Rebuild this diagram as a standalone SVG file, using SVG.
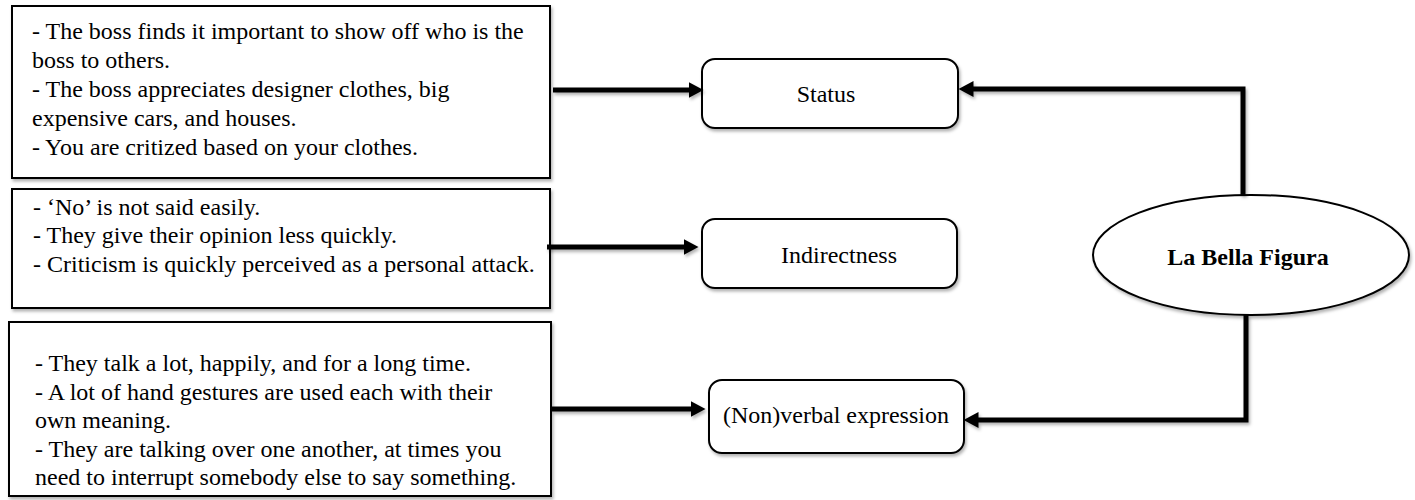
<svg xmlns="http://www.w3.org/2000/svg" width="1415" height="500" viewBox="0 0 1415 500">
  <defs>
    <filter id="sh" x="-10%" y="-10%" width="120%" height="130%">
      <feDropShadow dx="1.5" dy="2.5" stdDeviation="1.8" flood-color="#000" flood-opacity="0.3"/>
    </filter>
    <filter id="shc" filterUnits="userSpaceOnUse" x="0" y="0" width="1415" height="500">
      <feDropShadow dx="1.5" dy="2.5" stdDeviation="1.5" flood-color="#000" flood-opacity="0.3"/>
    </filter>
    <marker id="ah" markerUnits="userSpaceOnUse" markerWidth="15" markerHeight="16" refX="0.5" refY="8" orient="auto">
      <path d="M0,0 L15,8 L0,16 Z" fill="#000"/>
    </marker>
    <style>
      .box { fill: #fff; stroke: #000; stroke-width: 2; filter: url(#sh); }
      .rbox { fill: #fff; stroke: #000; stroke-width: 2; filter: url(#sh); }
      .txt { font-family: "Liberation Serif", "Times New Roman", "DejaVu Serif", serif; font-size: 24px; fill: #000; }
      .ctr { text-anchor: middle; }
      .bold { font-weight: bold; }
      .con { fill: none; stroke: #000; stroke-width: 5; stroke-linejoin: miter; }
    </style>
  </defs>
  <rect width="1415" height="500" fill="#fff"/>

  <g id="desc-status" font-family="Liberation Serif, Times New Roman, serif">
    <rect class="box" x="12" y="6" width="538" height="172"/>
    <text class="txt" x="32" y="39">- The boss finds it important to show off who is the</text>
    <text class="txt" x="32" y="68">boss to others.</text>
    <text class="txt" x="32" y="97">- The boss appreciates designer clothes, big</text>
    <text class="txt" x="32" y="126">expensive cars, and houses.</text>
    <text class="txt" x="32" y="155">- You are critized based on your clothes.</text>
  </g>

  <g id="desc-indirectness" font-family="Liberation Serif, Times New Roman, serif">
    <rect class="box" x="12" y="189" width="538" height="119"/>
    <text class="txt" x="33" y="215">- ‘No’ is not said easily.</text>
    <text class="txt" x="33" y="243">- They give their opinion less quickly.</text>
    <text class="txt" x="33" y="272">- Criticism is quickly perceived as a personal attack.</text>
  </g>

  <g id="desc-expression" font-family="Liberation Serif, Times New Roman, serif">
    <rect class="box" x="9" y="322" width="542" height="174"/>
    <text class="txt" x="35" y="371">- They talk a lot, happily, and for a long time.</text>
    <text class="txt" x="35" y="400">- A lot of hand gestures are used each with their</text>
    <text class="txt" x="35" y="428">own meaning.</text>
    <text class="txt" x="35" y="457">- They are talking over one another, at times you</text>
    <text class="txt" x="35" y="485">need to interrupt somebody else to say something.</text>
  </g>

  <g id="status" font-family="Liberation Serif, Times New Roman, serif">
    <rect class="rbox" x="702" y="59" width="256" height="69" rx="13" ry="13"/>
    <text class="txt ctr" x="826" y="102">Status</text>
  </g>

  <g id="indirectness" font-family="Liberation Serif, Times New Roman, serif">
    <rect class="rbox" x="702" y="219" width="255" height="69" rx="13" ry="13"/>
    <text class="txt ctr" x="839" y="263">Indirectness</text>
  </g>

  <g id="nonverbal" font-family="Liberation Serif, Times New Roman, serif">
    <rect class="rbox" x="709" y="380" width="255" height="73" rx="13" ry="13"/>
    <text class="txt ctr" x="836" y="423">(Non)verbal expression</text>
  </g>

  <g id="la-bella-figura" font-family="Liberation Serif, Times New Roman, serif">
    <ellipse cx="1251" cy="255" rx="158" ry="60" fill="#fff" stroke="#000" stroke-width="2" filter="url(#sh)"/>
    <text class="txt ctr bold" x="1248" y="265">La Bella Figura</text>
  </g>

  <g id="connectors" filter="url(#shc)">
    <path class="con" d="M553,90 H689" marker-end="url(#ah)"/>
    <path class="con" d="M547,247 H684" marker-end="url(#ah)"/>
    <path class="con" d="M552,409 H691" marker-end="url(#ah)"/>
    <path class="con" d="M1243,195 V89 H973" marker-end="url(#ah)"/>
    <path class="con" d="M1246,315 V420 H978" marker-end="url(#ah)"/>
  </g>
</svg>
